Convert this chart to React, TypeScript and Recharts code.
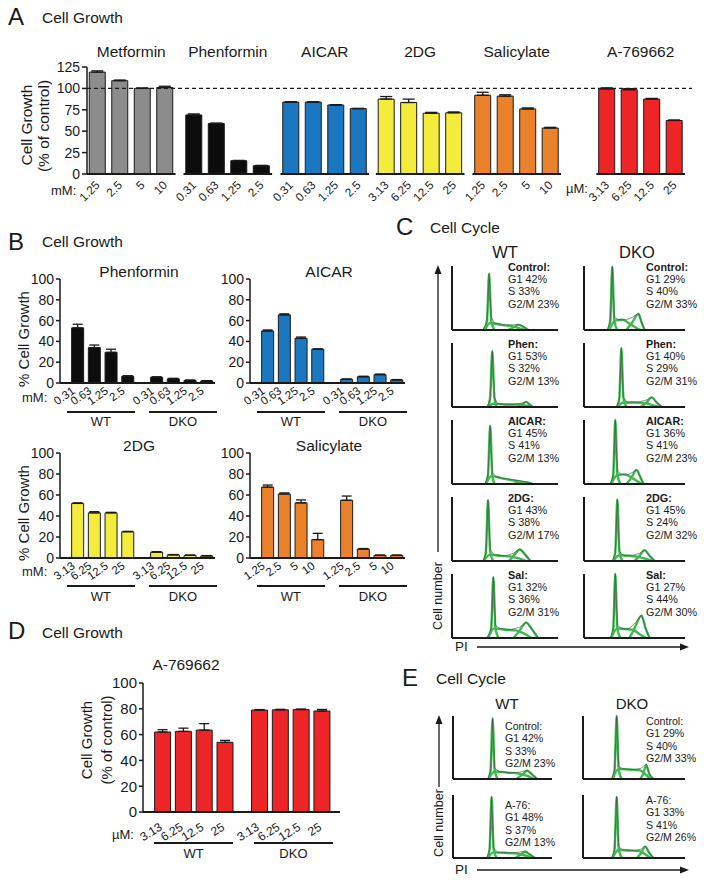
import React from "react";
import {
  BarChart, Bar, Cell, XAxis, YAxis, ReferenceLine, ErrorBar, LineChart, Line,
} from "recharts";

const FONT = "'Liberation Sans', Arial, Helvetica, sans-serif";
const INK = "#1a1a1a";
const GREEN = "#3dba4e";

// ---------- Panel A: cell growth (% of control) per drug and dose
const aDrugs = ["Metformin", "Phenformin", "AICAR", "2DG", "Salicylate", "A-769662"];
const aDoses = [
  ["1.25", "2.5", "5", "10"],
  ["0.31", "0.63", "1.25", "2.5"],
  ["0.31", "0.63", "1.25", "2.5"],
  ["3.13", "6.25", "12.5", "25"],
  ["1.25", "2.5", "5", "10"],
  ["3.13", "6.25", "12.5", "25"],
];
const aGrowth = [
  [119, 109, 100, 101],
  [69, 59, 15.5, 9.7],
  [84, 84, 80.6, 76.3],
  [87.5, 83.5, 71, 71.5],
  [92, 91, 76, 53.7],
  [99.5, 98.5, 87.5, 62.5],
];
const aSem = [
  [1.5, 0.8, 0.5, 1.5],
  [1.2, 0.5, 0.4, 0.4],
  [0.4, 0.4, 0.4, 0.4],
  [3, 4, 1, 1],
  [3.5, 1.5, 1.2, 0.8],
  [1.2, 1.2, 0.8, 0.6],
];
const aColors = ["#8c8c8c", "#0d0d0d", "#1b78c0", "#f4ec3c", "#e9822a", "#ee2526"];

// ---------- Panel B: % cell growth, WT vs DKO
const bDrugs = ["Phenformin", "AICAR", "2DG", "Salicylate"];
const bDoses = [
  ["0.31", "0.63", "1.25", "2.5"],
  ["0.31", "0.63", "1.25", "2.5"],
  ["3.13", "6.25", "12.5", "25"],
  ["1.25", "2.5", "5", "10"],
];
const bWT = [[53, 34, 29.5, 6.5], [50, 65.5, 43, 32.5], [52, 43, 43, 25], [67.5, 61, 52.5, 17.5]];
const bWTSem = [[3.5, 2.5, 3, 0.5], [1, 1, 1.2, 0.3], [0.5, 1.2, 0.5, 0.4], [2, 1, 2.8, 6]];
const bDKO = [[5.5, 4, 2.5, 2], [3.5, 6, 8, 3], [5.5, 3, 2.5, 2], [55, 8.5, 2.5, 2.5]];
const bDKOSem = [[0.5, 0.5, 0.3, 0.3], [0.4, 0.5, 0.6, 0.3], [0.5, 0.3, 0.3, 0.3], [4, 0.5, 0.3, 0.3]];
const bColors = ["#0d0d0d", "#1b78c0", "#f4ec3c", "#e9822a"];

// ---------- Panel D: A-769662, WT vs DKO
const dDoses = ["3.13", "6.25", "12.5", "25"];
const dWT = [62, 62.5, 63.5, 54];
const dWTSem = [1.8, 2.5, 5, 1.5];
const dDKO = [79, 79.2, 79.4, 78.3];
const dDKOSem = [0.4, 0.4, 0.4, 1.2];

// ---------- Panels C / E: cell cycle profiles
const phases = ["G1", "S", "G2/M"];
const cTreat = ["Control:", "Phen:", "AICAR:", "2DG:", "Sal:"];
const cWTPct = [[42, 33, 23], [53, 32, 13], [45, 41, 13], [43, 38, 17], [32, 36, 31]];
const cDKOPct = [[29, 40, 33], [40, 29, 31], [36, 41, 23], [45, 24, 32], [27, 44, 30]];
const eTreat = ["Control:", "A-76:"];
const eWTPct = [[42, 33, 23], [48, 37, 13]];
const eDKOPct = [[29, 40, 33], [33, 41, 26]];

type Pt = [number, number];
type Curve = { g1: Pt[]; s: Pt[]; g2: Pt[]; d: Pt[] };

// PI (x, % of panel width) vs cell number (y, % of panel height)
const cWTCurves: Curve[] = [
  { g1: [[30, 0], [33, 15], [35, 88], [37, 15], [40, 0]], s: [[31, 0], [36, 11], [46, 8], [56, 6], [63, 3], [68, 0]], g2: [[53, 0], [58, 4], [63, 8], [68, 4], [72, 0]], d: [[29, 0], [33, 12], [35, 88], [37, 20], [40, 11], [50, 8], [58, 8], [63, 9], [68, 5], [72, 0]] },
  { g1: [[34, 0], [36, 15], [38, 87], [40, 15], [42, 0]], s: [[34, 0], [39, 5], [50, 4], [62, 4], [70, 2], [75, 0]], g2: [[62, 0], [66, 4], [70, 8], [73, 4], [76, 0]], d: [[33, 0], [36, 12], [38, 87], [40, 15], [43, 5], [55, 4], [64, 5], [70, 8], [74, 3], [77, 0]] },
  { g1: [[32, 0], [34, 15], [36, 91], [38, 15], [40, 0]], s: [[32, 0], [37, 12], [50, 8], [60, 5], [70, 2], [76, 0]], g2: [[58, 0], [63, 2], [67, 3], [71, 2], [75, 0]], d: [[31, 0], [34, 14], [36, 91], [38, 18], [42, 11], [55, 7], [65, 5], [72, 3], [77, 0]] },
  { g1: [[30, 0], [32, 15], [34, 95], [36, 15], [39, 0]], s: [[30, 0], [36, 10], [46, 8], [55, 7], [63, 4], [70, 0]], g2: [[54, 0], [59, 10], [64, 18], [69, 10], [74, 0]], d: [[29, 0], [32, 12], [34, 95], [36, 18], [40, 9], [50, 8], [58, 12], [64, 19], [69, 10], [74, 0]] },
  { g1: [[34, 0], [37, 15], [39, 95], [41, 15], [44, 0]], s: [[34, 0], [40, 15], [50, 13], [60, 12], [68, 7], [75, 0]], g2: [[58, 0], [64, 12], [70, 24], [76, 12], [81, 0]], d: [[33, 0], [37, 14], [39, 95], [41, 20], [45, 15], [55, 13], [64, 17], [70, 25], [76, 12], [82, 0]] },
];
const cDKOCurves: Curve[] = [
  { g1: [[24, 0], [26, 15], [28, 99], [30, 15], [33, 0]], s: [[25, 0], [31, 15], [38, 16], [45, 10], [51, 4], [56, 0]], g2: [[42, 0], [47, 10], [54, 25], [57, 12], [60, 0]], d: [[23, 0], [26, 14], [28, 99], [30, 20], [34, 16], [42, 16], [48, 20], [54, 26], [57, 12], [60, 0]] },
  { g1: [[33, 0], [35, 15], [37, 92], [39, 15], [42, 0]], s: [[33, 0], [39, 7], [50, 7], [60, 6], [68, 3], [74, 0]], g2: [[56, 0], [62, 7], [67, 15], [72, 7], [77, 0]], d: [[32, 0], [35, 12], [37, 92], [39, 15], [43, 7], [55, 8], [62, 11], [67, 15], [72, 7], [77, 0]] },
  { g1: [[27, 0], [29, 15], [31, 100], [33, 15], [36, 0]], s: [[27, 0], [33, 14], [40, 15], [47, 10], [53, 4], [58, 0]], g2: [[42, 0], [47, 10], [52, 22], [56, 10], [59, 0]], d: [[26, 0], [29, 14], [31, 100], [33, 20], [37, 15], [44, 15], [49, 19], [52, 22], [56, 10], [59, 0]] },
  { g1: [[29, 0], [31, 15], [33, 96], [35, 15], [38, 0]], s: [[29, 0], [35, 9], [45, 8], [55, 6], [62, 3], [68, 0]], g2: [[50, 0], [55, 8], [60, 17], [65, 8], [70, 0]], d: [[28, 0], [31, 12], [33, 96], [35, 15], [39, 9], [48, 9], [55, 12], [60, 17], [65, 8], [70, 0]] },
  { g1: [[27, 0], [29, 15], [31, 100], [33, 15], [36, 0]], s: [[27, 0], [33, 15], [40, 14], [48, 13], [55, 6], [62, 0]], g2: [[45, 0], [50, 15], [57, 35], [61, 15], [65, 0]], d: [[26, 0], [29, 14], [31, 100], [33, 20], [37, 15], [44, 14], [50, 22], [57, 36], [61, 15], [65, 0]] },
];
const eWTCurves: Curve[] = [
  { g1: [[36, 0], [38, 15], [40, 96], [42, 15], [45, 0]], s: [[36, 0], [42, 12], [55, 10], [65, 9], [75, 5], [82, 0]], g2: [[64, 0], [70, 7], [75, 13], [80, 7], [85, 0]], d: [[35, 0], [38, 13], [40, 96], [42, 18], [46, 12], [58, 10], [68, 11], [75, 14], [80, 7], [85, 0]] },
  { g1: [[35, 0], [37, 15], [39, 97], [41, 15], [44, 0]], s: [[35, 0], [41, 9], [55, 8], [65, 7], [73, 4], [80, 0]], g2: [[63, 0], [68, 5], [73, 10], [78, 5], [83, 0]], d: [[34, 0], [37, 13], [39, 97], [41, 16], [45, 9], [57, 8], [66, 9], [73, 11], [78, 5], [83, 0]] },
];
const eDKOCurves: Curve[] = [
  { g1: [[29, 0], [31, 15], [33, 100], [35, 15], [38, 0]], s: [[29, 0], [35, 16], [45, 15], [55, 14], [61, 8], [66, 0]], g2: [[56, 0], [59, 8], [62, 22], [65, 8], [69, 0]], d: [[28, 0], [31, 14], [33, 100], [35, 20], [39, 16], [50, 15], [57, 17], [62, 24], [65, 8], [69, 0]] },
  { g1: [[29, 0], [31, 15], [33, 97], [35, 15], [38, 0]], s: [[29, 0], [35, 13], [45, 12], [55, 11], [61, 6], [66, 0]], g2: [[53, 0], [57, 8], [61, 18], [65, 8], [69, 0]], d: [[28, 0], [31, 13], [33, 97], [35, 18], [39, 13], [50, 12], [57, 14], [61, 19], [65, 8], [69, 0]] },
];

// ---------- small text helpers
function T({ cx, cy, size, children, bold, left }: any) {
  return (
    <div
      style={{
        position: "absolute", top: cy - size * 0.5, left: cx,
        transform: left ? undefined : "translateX(-50%)",
        fontSize: size, lineHeight: `${size}px`, fontFamily: FONT,
        fontWeight: bold ? 700 : 400, color: INK, whiteSpace: "nowrap",
      }}
    >
      {children}
    </div>
  );
}

function VT({ cx, cy, size, children }: any) {
  return (
    <div
      style={{
        position: "absolute", left: cx, top: cy,
        transform: "translate(-50%,-50%) rotate(-90deg)",
        fontSize: size, lineHeight: `${size}px`, fontFamily: FONT,
        color: INK, whiteSpace: "nowrap",
      }}
    >
      {children}
    </div>
  );
}

// rotated dose labels; anchor is the top-right corner of the text
const doseTick = (size: number, dx: number, dy: number, angle: number) => ({
  angle, textAnchor: "end", verticalAnchor: "start", fontSize: size,
  fontFamily: FONT, fill: INK, dx, dy,
});

// ---------- Panel A chart
const A_DOMAIN: [number, number] = [-0.467, 26.42];
const aGroupStart = [0, 4.29, 8.6, 12.84, 17.13, 22.64];
const A_PLOT_L = 87;
const A_PLOT_W = 605;
const aPx = (u: number) => A_PLOT_L + ((u - A_DOMAIN[0]) * A_PLOT_W) / (A_DOMAIN[1] - A_DOMAIN[0]);

function PanelA() {
  const rows = aGrowth.flatMap((vals, g) =>
    vals.map((v, i) => ({ x: aGroupStart[g] + i, v, err: [0, aSem[g][i]], fill: aColors[g], label: aDoses[g][i] }))
  );
  return (
    <>
      <div style={{ position: "absolute", left: 0, top: 40 }}>
        <BarChart width={704} height={27 + 107 + 40} data={rows} margin={{ top: 27, right: 12, left: 47, bottom: 0 }}>
          <XAxis type="number" dataKey="x" domain={A_DOMAIN} ticks={rows.map((r) => r.x)} interval={0}
            axisLine={false} tickLine={false} tickSize={0} tickMargin={0} height={40} allowDataOverflow
            tick={doseTick(11.8, -3, 6, -45) as any}
            tickFormatter={(_v: any, i: number) => rows[i] ? rows[i].label : ""} />
          <YAxis domain={[0, 125]} ticks={[0, 25, 50, 75, 100, 125]} width={40} interval={0}
            axisLine={{ stroke: INK, strokeWidth: 1.5 }} tickLine={{ stroke: INK, strokeWidth: 1.5 }} tickSize={5}
            tick={{ fontSize: 14, fill: INK, fontFamily: FONT }} />
          <ReferenceLine y={100} stroke={INK} strokeDasharray="4 3" strokeWidth={1.2} />
          <Bar dataKey="v" barSize={16} stroke={INK} strokeWidth={1} isAnimationActive={false}>
            {rows.map((r, i) => <Cell key={i} fill={r.fill} />)}
            <ErrorBar dataKey="err" width={6} stroke={INK} strokeWidth={1.3} direction="y" />
          </Bar>
          {aGroupStart.map((s, g) => (
            <ReferenceLine key={g} segment={[{ x: s - 0.47, y: 0 }, { x: s + 3.47, y: 0 }]}
              stroke={INK} strokeWidth={2} ifOverflow="visible" />
          ))}
        </BarChart>
      </div>
      {aDrugs.map((d, g) => (
        <T key={d} cx={aPx(aGroupStart[g] + 1.5)} cy={52} size={15.5}>{d}</T>
      ))}
      <T cx={51} cy={190} size={13} left>mM:</T>
      <T cx={566} cy={188} size={13} left>µM:</T>
      <VT cx={27} cy={125} size={15.5}>Cell Growth</VT>
      <VT cx={44} cy={126} size={15.5}>(% of control)</VT>
    </>
  );
}

// ---------- WT vs DKO bar chart (panels B and D)
type Geo = {
  axisX: number; plotTop: number; plotBottom: number; plotW: number; pad: number; pitch: number;
  yW: number; xH: number; dkoStart: number; barSize: number; yFont: number; xFont: number;
  dx: number; dy: number; angle: number; lineY: number; wtLine: [number, number]; dkoLine: [number, number];
};

function WtDko({ wt, wtSem, dko, dkoSem, doses, color, geo, title, titleDx, titleDy, unit, unitDx, unitDy }: any) {
  const g: Geo = geo;
  const rows = [
    ...wt.map((v: number, i: number) => ({ x: i, v, err: [0, wtSem[i]], label: doses[i] })),
    ...dko.map((v: number, i: number) => ({ x: g.dkoStart + i, v, err: [0, dkoSem[i]], label: doses[i] })),
  ];
  const domain: [number, number] = [-g.pad / g.pitch, (g.plotW - g.pad) / g.pitch];
  const px = (u: number) => g.axisX + g.pad + u * g.pitch;
  const mt = 10;
  const ph = g.plotBottom - g.plotTop;
  return (
    <>
      <div style={{ position: "absolute", left: g.axisX - g.yW, top: g.plotTop - mt }}>
        <BarChart width={g.yW + g.plotW + 2} height={mt + ph + g.xH} data={rows}
          margin={{ top: mt, right: 2, left: 0, bottom: 0 }}>
          <XAxis type="number" dataKey="x" domain={domain} ticks={rows.map((r) => r.x)} interval={0}
            axisLine={{ stroke: INK, strokeWidth: 2 }} tickLine={false} tickSize={0} tickMargin={0}
            height={g.xH} allowDataOverflow
            tick={doseTick(g.xFont, g.dx, g.dy, g.angle) as any}
            tickFormatter={(_v: any, i: number) => rows[i] ? rows[i].label : ""} />
          <YAxis domain={[0, 100]} ticks={[0, 20, 40, 60, 80, 100]} width={g.yW} interval={0}
            axisLine={{ stroke: INK, strokeWidth: 1.5 }} tickLine={{ stroke: INK, strokeWidth: 1.5 }} tickSize={4}
            tick={{ fontSize: g.yFont, fill: INK, fontFamily: FONT }} />
          <Bar dataKey="v" barSize={g.barSize} fill={color} stroke={INK} strokeWidth={1} isAnimationActive={false}>
            <ErrorBar dataKey="err" width={5} stroke={INK} strokeWidth={1.3} direction="y" />
          </Bar>
        </BarChart>
      </div>
      <T cx={g.axisX + titleDx} cy={g.plotTop + titleDy} size={15.5}>{title}</T>
      {unit && <T cx={g.axisX + unitDx} cy={g.plotBottom + unitDy} size={13} left>{unit}</T>}
      {[["WT", 0, g.wtLine], ["DKO", g.dkoStart, g.dkoLine]].map(([name, s, ln]: any) => (
        <React.Fragment key={name}>
          <div style={{
            position: "absolute", left: px(s + ln[0]), top: g.plotBottom + g.lineY - 1,
            width: px(s + ln[1]) - px(s + ln[0]), height: 2, background: INK,
          }} />
          <T cx={(px(s + ln[0]) + px(s + ln[1])) / 2} cy={g.plotBottom + g.lineY + 10} size={13}>{name}</T>
        </React.Fragment>
      ))}
    </>
  );
}

const bGeo = (axisX: number, plotTop: number, plotBottom: number): Geo => ({
  axisX, plotTop, plotBottom, plotW: 155, pad: 18, pitch: 16.7, yW: 40, xH: 30, dkoStart: 4.73,
  barSize: 12, yFont: 14, xFont: 11.5, dx: -7, dy: 3, angle: -35,
  lineY: 28.5, wtLine: [-0.66, 3.41], dkoLine: [-0.48, 3.59],
});
const dGeo: Geo = {
  axisX: 143, plotTop: 683, plotBottom: 812, plotW: 197, pad: 20, pitch: 20.8, yW: 45, xH: 34, dkoStart: 4.66,
  barSize: 16, yFont: 15, xFont: 12, dx: -4.5, dy: 10, angle: -32,
  lineY: 31, wtLine: [-0.43, 3.37], dkoLine: [-0.29, 3.51],
};

// ---------- cell cycle histogram
const toPts = (a: Pt[]) => a.map(([x, y]) => ({ x, y }));

function Histo({ curve, axisX, base, w, h }: { curve: Curve; axisX: number; base: number; w: number; h: number }) {
  return (
    <div style={{ position: "absolute", left: axisX - 2, top: base - h - 2 }}>
      <LineChart width={w + 4} height={h + 4} margin={{ top: 2, right: 2, bottom: 2, left: 2 }}>
        <XAxis type="number" dataKey="x" domain={[0, 100]} hide />
        <YAxis type="number" domain={[0, 100]} hide />
        {(["s", "g2", "g1"] as const).map((k) => (
          <Line key={k} data={toPts(curve[k])} dataKey="y" type="monotone" stroke={GREEN} strokeWidth={2.4}
            dot={false} isAnimationActive={false} />
        ))}
        <Line data={toPts(curve.d)} dataKey="y" type="linear" stroke="#444" strokeWidth={0.6}
          dot={false} isAnimationActive={false} />
        <ReferenceLine x={0} stroke={INK} strokeWidth={2} />
        <ReferenceLine y={0} stroke={INK} strokeWidth={2} />
      </LineChart>
    </div>
  );
}

function CycleText({ x, y, head, pct, size, bold, lh }: any) {
  return (
    <>
      <T cx={x} cy={y} size={size} bold={bold} left>{head}</T>
      {pct.map((p: number, k: number) => (
        <T key={k} cx={x} cy={y + lh * (k + 1)} size={size} left>{`${phases[k]} ${p}%`}</T>
      ))}
    </>
  );
}

const cBase = [329.5, 406.5, 483.5, 560.5, 637.5];
const eBase = [779, 858];

function Arrows() {
  return (
    <svg width={704} height={884} style={{ position: "absolute", left: 0, top: 0, pointerEvents: "none" }}>
      <line x1={438} y1={552} x2={438} y2={272} stroke={INK} strokeWidth={1.3} />
      <polygon points="438,265 434.5,274 441.5,274" fill={INK} />
      <line x1={477} y1={647} x2={682} y2={647} stroke={INK} strokeWidth={1.3} />
      <polygon points="689,647 680,643.5 680,650.5" fill={INK} />
      <line x1={439} y1={787} x2={439} y2={722} stroke={INK} strokeWidth={1.3} />
      <polygon points="439,715 435.5,724 442.5,724" fill={INK} />
      <line x1={477} y1={870} x2={682} y2={870} stroke={INK} strokeWidth={1.3} />
      <polygon points="689,870 680,866.5 680,873.5" fill={INK} />
    </svg>
  );
}

export default function App() {
  return (
    <div style={{ position: "absolute", left: 0, top: 0, width: 704, height: 884, background: "#fff", overflow: "hidden" }}>
      {/* section headers */}
      <T cx={8} cy={16.5} size={24} left>A</T>
      <T cx={42} cy={18} size={15.5} left>Cell Growth</T>
      <T cx={8} cy={242} size={24} left>B</T>
      <T cx={42} cy={242} size={15.5} left>Cell Growth</T>
      <T cx={396} cy={227} size={24} left>C</T>
      <T cx={430} cy={228} size={15.5} left>Cell Cycle</T>
      <T cx={8} cy={631} size={24} left>D</T>
      <T cx={42} cy={633} size={15.5} left>Cell Growth</T>
      <T cx={402} cy={678} size={24} left>E</T>
      <T cx={436} cy={679} size={15.5} left>Cell Cycle</T>

      <PanelA />

      {bDrugs.map((d, k) => {
        const col = k % 2;
        const row = Math.floor(k / 2);
        const geo = bGeo([60, 250][col], [279, 452.7][row], [383, 557.7][row]);
        return (
          <WtDko key={d} wt={bWT[k]} wtSem={bWTSem[k]} dko={bDKO[k]} dkoSem={bDKOSem[k]} doses={bDoses[k]}
            color={bColors[k]} geo={geo} title={d} titleDx={79} titleDy={-7}
            unit={col === 0 ? "mM:" : null} unitDx={-38} unitDy={14} />
        );
      })}
      <VT cx={23} cy={339} size={15}>% Cell Growth</VT>
      <VT cx={23} cy={513} size={15}>% Cell Growth</VT>

      <WtDko wt={dWT} wtSem={dWTSem} dko={dDKO} dkoSem={dDKOSem} doses={dDoses} color="#ee2526"
        geo={dGeo} title="A-769662" titleDx={43} titleDy={-18} unit="µM:" unitDx={-31} unitDy={22} />
      <VT cx={86} cy={740} size={15}>Cell Growth</VT>
      <VT cx={106} cy={740} size={15}>(% of control)</VT>

      {/* Panel C */}
      <T cx={505} cy={252} size={16.5}>WT</T>
      <T cx={637} cy={252} size={16.5}>DKO</T>
      {cBase.map((b, r) => (
        <React.Fragment key={r}>
          <Histo curve={cWTCurves[r]} axisX={452} base={b} w={106} h={64} />
          <Histo curve={cDKOCurves[r]} axisX={584} base={b} w={101} h={64} />
          <CycleText x={508} y={b - 62.5} head={cTreat[r]} pct={cWTPct[r]} size={10.8} bold lh={12.4} />
          <CycleText x={646} y={b - 62.5} head={cTreat[r]} pct={cDKOPct[r]} size={10.8} bold lh={12.4} />
        </React.Fragment>
      ))}
      <VT cx={438} cy={596} size={12.6}>Cell number</VT>
      <T cx={455} cy={647} size={13.5} left>PI</T>

      {/* Panel E */}
      <T cx={507} cy={703} size={15}>WT</T>
      <T cx={632} cy={703} size={15}>DKO</T>
      {eBase.map((b, r) => (
        <React.Fragment key={r}>
          <Histo curve={eWTCurves[r]} axisX={453} base={b} w={99} h={63} />
          <Histo curve={eDKOCurves[r]} axisX={583} base={b} w={102} h={63} />
          <CycleText x={505} y={b - 53} head={eTreat[r]} pct={eWTPct[r]} size={10.6} lh={12.5} />
          <CycleText x={646} y={b - 58} head={eTreat[r]} pct={eDKOPct[r]} size={10.6} lh={12.4} />
        </React.Fragment>
      ))}
      <VT cx={439} cy={823} size={12.6}>Cell number</VT>
      <T cx={455} cy={870} size={13.5} left>PI</T>

      <Arrows />
    </div>
  );
}
